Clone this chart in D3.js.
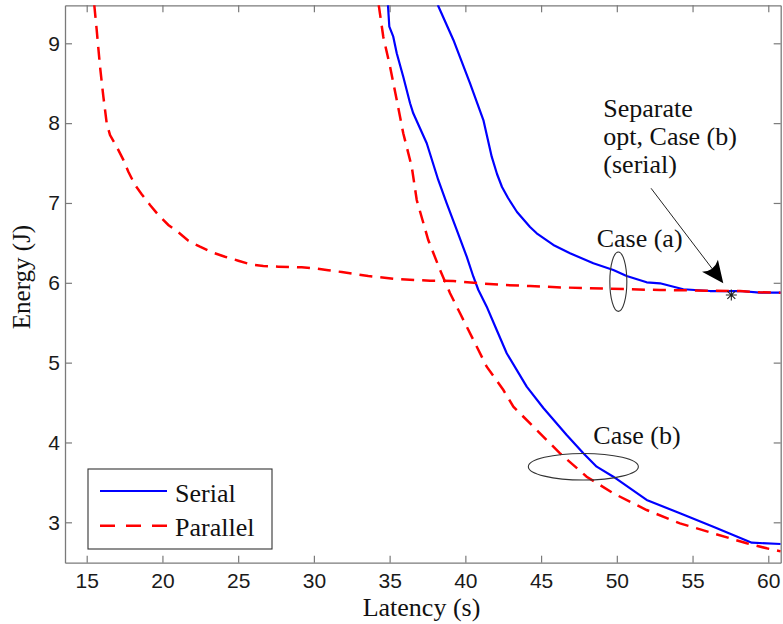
<!DOCTYPE html>
<html>
<head>
<meta charset="utf-8">
<script src="https://cdn.jsdelivr.net/npm/d3@7"></script>
<style>
  html, body { margin: 0; padding: 0; background: #fff; }
  svg { display: block; }
</style>
</head>
<body>
<svg id="chart" width="783" height="624"></svg>
<script>
// Serial, case (a)
const serialA_latency = [38.18, 39.21, 40.31, 41.19, 41.74, 42.09, 42.42, 42.82, 43.41, 44.27, 44.71, 45.81, 46.91, 48.45, 49.77, 50.65, 51.97, 52.85, 54.39, 56.15, 58.13, 59.45, 60.82];
const serialA_energy  = [9.48, 9.042, 8.499, 8.039, 7.58, 7.363, 7.2, 7.062, 6.887, 6.699, 6.62, 6.474, 6.37, 6.244, 6.16, 6.085, 6.006, 5.994, 5.919, 5.897, 5.897, 5.876, 5.876];

// Serial, case (b)
const serialB_latency = [34.89, 34.98, 35.24, 35.47, 35.90, 36.35, 36.56, 37.45, 38.21, 38.77, 39.43, 40.09, 40.53, 40.86, 41.41, 42.07, 42.73, 44.05, 45.15, 46.69, 47.79, 48.67, 49.77, 51.97, 54.17, 56.37, 58.91, 60.82];
const serialB_energy  = [9.48, 9.208, 9.083, 8.875, 8.582, 8.249, 8.123, 7.748, 7.288, 6.996, 6.662, 6.327, 6.076, 5.91, 5.701, 5.409, 5.117, 4.699, 4.432, 4.094, 3.864, 3.697, 3.571, 3.28, 3.113, 2.945, 2.745, 2.728];

// Parallel, case (a)
const parallelA_latency = [15.50, 15.66, 15.88, 16.10, 16.32, 16.54, 16.98, 17.42, 17.75, 18.19, 18.63, 19.18, 19.73, 20.39, 21.05, 21.71, 22.48, 23.26, 24.13, 25.01, 25.78, 26.66, 27.65, 29.20, 30.08, 30.95, 31.84, 32.72, 33.59, 35.36, 37.67, 39.20, 40.97, 42.51, 44.27, 46.03, 49.33, 52.85, 56.15, 58.13, 59.45, 60.82];
const parallelA_energy  = [9.48, 9.167, 8.707, 8.331, 8.00, 7.85, 7.705, 7.54, 7.39, 7.225, 7.11, 6.975, 6.85, 6.724, 6.633, 6.527, 6.452, 6.382, 6.327, 6.277, 6.232, 6.21, 6.202, 6.194, 6.182, 6.157, 6.135, 6.11, 6.085, 6.048, 6.026, 6.023, 5.994, 5.973, 5.96, 5.944, 5.926, 5.91, 5.901, 5.897, 5.881, 5.876];

// Parallel, case (b)
const parallelB_latency = [34.28, 34.58, 35.03, 35.47, 35.90, 36.46, 36.79, 37.55, 38.33, 38.99, 39.65, 40.53, 41.41, 42.51, 43.17, 44.71, 46.25, 48.01, 49.77, 51.97, 54.17, 56.37, 58.58, 59.90, 60.82];
const parallelB_energy  = [9.48, 9.083, 8.707, 8.29, 7.873, 7.454, 7.037, 6.536, 6.16, 5.869, 5.618, 5.284, 4.949, 4.657, 4.448, 4.156, 3.864, 3.571, 3.363, 3.154, 2.987, 2.862, 2.737, 2.674, 2.636];

// Separately optimised point, case (b), serial
const sepOptLatency = [57.56];
const sepOptEnergy  = [5.847];

const xTicks = [15, 20, 25, 30, 35, 40, 45, 50, 55, 60];
const yTicks = [3, 4, 5, 6, 7, 8, 9];
const legendLabels = ["Serial", "Parallel"];

const svg = d3.select("#chart");
const plot = { left: 65, right: 780.7, top: 5.3, bottom: 562.7 };

const x = d3.scaleLinear().domain([13.567, 60.82]).range([plot.left, plot.right]);
const y = d3.scaleLinear().domain([2.494, 9.476]).range([plot.bottom, plot.top]);

const SERIF = "'Liberation Serif', 'Times New Roman', serif";
const SANS = "'Liberation Sans', Arial, sans-serif";
const AXIS_GREY = "#7a7a7a";

svg.append("defs").append("clipPath").attr("id", "plotClip")
  .append("rect")
  .attr("x", plot.left).attr("y", plot.top)
  .attr("width", plot.right - plot.left).attr("height", plot.bottom - plot.top);

// Axes with inward ticks on all four sides
const tickLen = 7;
const intFmt = d3.format("d");
function styleAxis(g) {
  g.select(".domain").attr("stroke", AXIS_GREY).attr("stroke-width", 1.3);
  g.selectAll(".tick line").attr("stroke", AXIS_GREY).attr("stroke-width", 1.2);
  g.selectAll(".tick text").attr("fill", "#1a1a1a").attr("font-family", SANS).attr("font-size", 21);
}

svg.append("g").attr("transform", `translate(0,${plot.bottom})`)
  .call(d3.axisBottom(x).tickValues(xTicks).tickFormat(intFmt).tickSizeInner(-tickLen).tickSizeOuter(0).tickPadding(10.5))
  .call(styleAxis);
svg.append("g").attr("transform", `translate(0,${plot.top})`)
  .call(d3.axisTop(x).tickValues(xTicks).tickSizeInner(-tickLen).tickSizeOuter(0).tickFormat(""))
  .call(styleAxis);
svg.append("g").attr("transform", `translate(${plot.left},0)`)
  .call(d3.axisLeft(y).tickValues(yTicks).tickFormat(intFmt).tickSizeInner(-tickLen).tickSizeOuter(0).tickPadding(5))
  .call(styleAxis);
svg.append("g").attr("transform", `translate(${plot.right},0)`)
  .call(d3.axisRight(y).tickValues(yTicks).tickSizeInner(-tickLen).tickSizeOuter(0).tickFormat(""))
  .call(styleAxis);

// Axis titles
svg.append("text")
  .attr("x", 421.5).attr("y", 616)
  .attr("text-anchor", "middle")
  .attr("font-family", SERIF).attr("font-size", 26).attr("fill", "#111")
  .text("Latency (s)");
svg.append("text")
  .attr("transform", "translate(30,277) rotate(-90)")
  .attr("text-anchor", "middle")
  .attr("font-family", SERIF).attr("font-size", 25).attr("fill", "#111")
  .text("Energy (J)");

// Curves
const line = d3.line().x(d => x(d[0])).y(d => y(d[1]));
const zip = (a, b) => a.map((v, i) => [v, b[i]]);

const curves = svg.append("g").attr("clip-path", "url(#plotClip)");
[[serialA_latency, serialA_energy], [serialB_latency, serialB_energy]].forEach(([lx, ly]) => {
  curves.append("path")
    .attr("d", line(zip(lx, ly)))
    .attr("fill", "none").attr("stroke", "#0000ff").attr("stroke-width", 2.2)
    .attr("stroke-linejoin", "round");
});
[[parallelA_latency, parallelA_energy], [parallelB_latency, parallelB_energy]].forEach(([lx, ly]) => {
  curves.append("path")
    .attr("d", line(zip(lx, ly)))
    .attr("fill", "none").attr("stroke", "#ff0000").attr("stroke-width", 2.5)
    .attr("stroke-dasharray", "13,8");
});

// Asterisk marker at the separately optimised point
const ann = svg.append("g");
sepOptLatency.forEach((lx, i) => {
  const cx = x(lx), cy = y(sepOptEnergy[i]), r = 5.5, d = r * 0.72;
  ann.append("path")
    .attr("d", `M${cx - r},${cy}H${cx + r}M${cx},${cy - r}V${cy + r}` +
               `M${cx - d},${cy - d}L${cx + d},${cy + d}M${cx - d},${cy + d}L${cx + d},${cy - d}`)
    .attr("stroke", "#222").attr("stroke-width", 1.1);
});

// Arrow pointing at the marker
const a0 = [x(52.26), y(7.184)], a1 = [x(57.03), y(5.994)];
const ux = (a1[0] - a0[0]), uy = (a1[1] - a0[1]);
const L = Math.hypot(ux, uy), dx = ux / L, dy = uy / L, px = -dy, py = dx;
const headLen = 22, headHalf = 10, notch = 14;
ann.append("line")
  .attr("x1", a0[0]).attr("y1", a0[1])
  .attr("x2", a1[0] - dx * notch).attr("y2", a1[1] - dy * notch)
  .attr("stroke", "#222").attr("stroke-width", 1);
ann.append("path")
  .attr("d", `M${a1[0]},${a1[1]}` +
    `L${a1[0] - dx * headLen + px * headHalf},${a1[1] - dy * headLen + py * headHalf}` +
    `Q${a1[0] - dx * (notch + 1)},${a1[1] - dy * (notch + 1)} ${a1[0] - dx * headLen - px * headHalf},${a1[1] - dy * headLen - py * headHalf}Z`)
  .attr("fill", "#000");

// Annotation text
const sepLines = ["Separate", "opt, Case (b)", "(serial)"];
const sepText = ann.append("text")
  .attr("font-family", SERIF).attr("font-size", 26).attr("fill", "#111");
sepLines.forEach((t, i) => {
  sepText.append("tspan").attr("x", x(49.11)).attr("y", 116.7 + i * 28.3).text(t);
});

ann.append("text")
  .attr("x", x(48.67)).attr("y", y(6.452))
  .attr("font-family", SERIF).attr("font-size", 26).attr("fill", "#111")
  .text("Case (a)");
ann.append("text")
  .attr("x", x(48.45)).attr("y", y(3.977))
  .attr("font-family", SERIF).attr("font-size", 26).attr("fill", "#111")
  .text("Case (b)");

// Ellipses grouping each case
ann.append("ellipse")
  .attr("cx", x(50.10)).attr("cy", y(6.014)).attr("rx", 8.5).attr("ry", 29.7)
  .attr("fill", "none").attr("stroke", "#333").attr("stroke-width", 1.1);
ann.append("ellipse")
  .attr("cx", x(47.79)).attr("cy", y(3.696)).attr("rx", 55).attr("ry", 13.3)
  .attr("fill", "none").attr("stroke", "#333").attr("stroke-width", 1.1);

// Legend
const legend = svg.append("g");
legend.append("rect")
  .attr("x", 88).attr("y", 469).attr("width", 184).attr("height", 80)
  .attr("fill", "#fff").attr("stroke", "#333").attr("stroke-width", 1.1);
const legendStyles = [
  { color: "#0000ff", width: 2.2, dash: null, y: 491 },
  { color: "#ff0000", width: 2.5, dash: "15,11", y: 525.7 }
];
legendLabels.forEach((label, i) => {
  const s = legendStyles[i];
  legend.append("line")
    .attr("x1", 100).attr("x2", 167).attr("y1", s.y).attr("y2", s.y)
    .attr("stroke", s.color).attr("stroke-width", s.width)
    .attr("stroke-dasharray", s.dash);
  legend.append("text")
    .attr("x", 175).attr("y", s.y + 10.5)
    .attr("font-family", SERIF).attr("font-size", 26).attr("fill", "#111")
    .text(label);
});
</script>
</body>
</html>
